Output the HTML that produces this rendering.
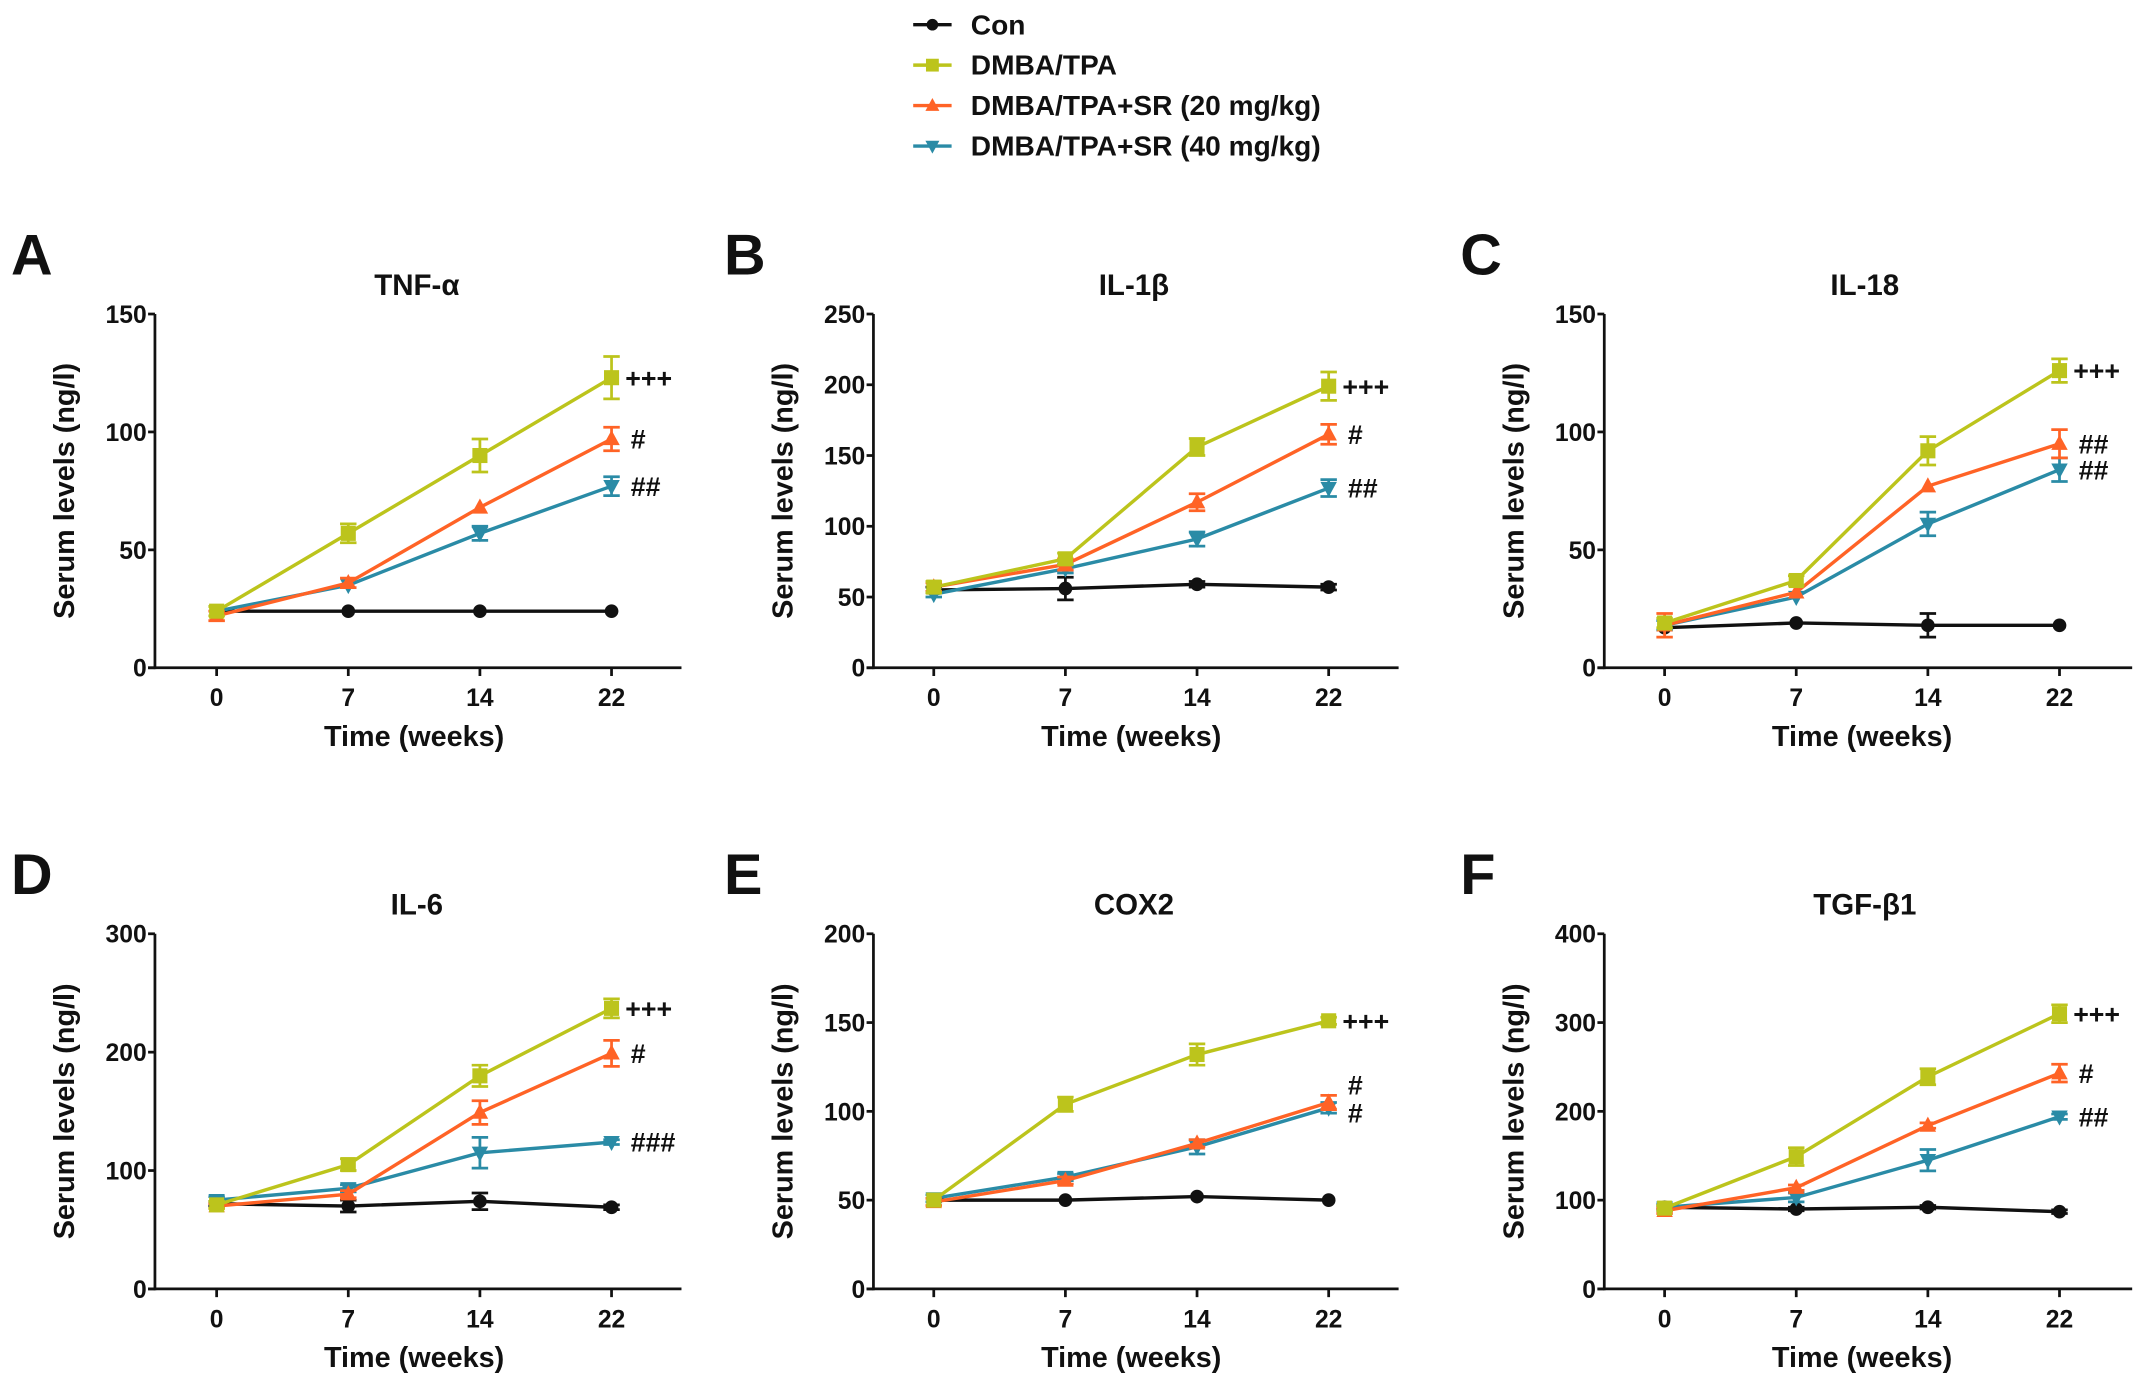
<!DOCTYPE html>
<html><head><meta charset="utf-8"><style>
html,body{margin:0;padding:0;background:#fff}
svg{display:block}
text{font-family:"Liberation Sans",Arial,sans-serif;font-weight:bold;fill:#111}
</style></head><body>
<svg id="fig" width="2150" height="1383" viewBox="0 0 1568 1008.6" xmlns="http://www.w3.org/2000/svg"></svg>
<script>
const categories = ["0","7","14","22"];
const seriesNames = ["Con","DMBA/TPA","DMBA/TPA+SR (20 mg/kg)","DMBA/TPA+SR (40 mg/kg)"];
const seriesColors = ["#111111","#bcc41c","#ff6326","#2a8ba6"];
const panelLetters = ["A","B","C","D","E","F"];
const panelTitles = ["TNF-α","IL-1β","IL-18","IL-6","COX2","TGF-β1"];
const yMaxes = [150,250,150,300,200,400];
const yTicks = [[0,50,100,150],[0,50,100,150,200,250],[0,50,100,150],[0,100,200,300],[0,50,100,150,200],[0,100,200,300,400]];
const conValues = [[24,24,24,24],[55,56,59,57],[17,19,18,18],[72,70,74,69],[50,50,52,50],[92,90,92,87]];
const conErrors = [[1,1,1,1],[2,8,2,2],[1,1,5,1],[2,5,7,2],[1,1,1,1],[2,2,2,2]];
const dmbaValues = [[24,57,90,123],[57,77,156,199],[19,37,92,126],[71,105,180,237],[50,104,132,151],[91,149,239,310]];
const dmbaErrors = [[2,4,7,9],[4,4,6,10],[2,2,6,5],[3,5,9,8],[1,4,6,2],[3,10,9,10]];
const sr20Values = [[22,36,68,97],[57,73,117,165],[18,32,77,95],[70,80,149,199],[49,61,82,105],[88,114,184,243]];
const sr20Errors = [[2,2,1,5],[3,4,6,7],[5,1,1,6],[2,3,10,11],[2,2,2,4],[3,3,3,10]];
const sr40Values = [[24,35,57,77],[52,70,91,127],[18,30,61,84],[75,85,115,124],[51,63,80,102],[92,103,145,194]];
const sr40Errors = [[1,1,3,4],[2,3,5,6],[2,1,5,5],[3,3,13,2],[2,2,4,3],[4,5,12,3]];
const annoTexts = [["+++","#","##"],["+++","#","##"],["+++","##","##"],["+++","#","###"],["+++","#","#"],["+++","#","##"]];
const annoValues = [[123,97,77],[199,165,127],[126,95,84],[237,199,124],[151,115,99],[310,243,194]];

const NS="http://www.w3.org/2000/svg";
const svg=document.getElementById('fig');
function mk(tag,attrs,parent,txt){const e=document.createElementNS(NS,tag);for(const k in attrs)e.setAttribute(k,attrs[k]);if(txt!==undefined)e.textContent=txt;(parent||svg).appendChild(e);return e;}

function marker(g,i,x,y,s){
  s=s||1;const c=seriesColors[i];
  if(i===0) return mk('circle',{cx:x,cy:y,r:5*s,fill:c},g);
  if(i===1) return mk('rect',{x:x-5.5*s,y:y-5.5*s,width:11*s,height:11*s,fill:c},g);
  if(i===2) return mk('polygon',{points:`${x},${y-6.5*s} ${x+6*s},${y+4.5*s} ${x-6*s},${y+4.5*s}`,fill:c},g);
  return mk('polygon',{points:`${x},${y+6.5*s} ${x+6*s},${y-4.5*s} ${x-6*s},${y-4.5*s}`,fill:c},g);
}

// legend
const lg=mk('g',{});


seriesNames.forEach((n,i)=>{
  const y=18+i*29.5;
  const g=mk('g',{},lg);
  
  
  mk('line',{x1:666,x2:694,y1:y,y2:y,stroke:seriesColors[i],'stroke-width':2.5},g);
  marker(g,i,680,y,0.85);
  mk('text',{x:708,y:y+7,'font-size':20.5},g,n);
});

const colX=[[113,158,96,497],[637,681,96,1020],[1170,1214,96,1555]];
const rowY=[[229,487],[681,940]];
const letterX=[8,528,1065];
for(let p=0;p<6;p++){
  const col=p%3,row=Math.floor(p/3);
  const [ax,x0,dx,xr]=colX[col];const [yt,yb]=rowY[row];
  const yMax=yMaxes[p];
  const X=i=>x0+i*dx;
  const Y=v=>yb-(v/yMax)*(yb-yt);
  const g=mk('g',{});
  
  
  const lt=mk('text',{x:letterX[col],y:yt-29,'font-size':42},g,panelLetters[p]);
  
  
  const tt=mk('text',{x:(x0+X(3))/2+2,y:yt-14,'font-size':21.5,'text-anchor':'middle'},g,panelTitles[p]);
  
  
  const ya=mk('line',{x1:ax,x2:ax,y1:yt,y2:yb+1,stroke:'#111','stroke-width':2},g);
  
  
  const xa=mk('line',{x1:ax-5,x2:xr,y1:yb,y2:yb,stroke:'#111','stroke-width':2},g);
  
  
  yTicks[p].forEach(t=>{
    mk('line',{x1:ax-5,x2:ax,y1:Y(t),y2:Y(t),stroke:'#111','stroke-width':2},g);
    const l=mk('text',{x:ax-6,y:Y(t)+6.5,'font-size':18,'text-anchor':'end'},g,t);
    
    
  });
  categories.forEach((c,i)=>{
    mk('line',{x1:X(i),x2:X(i),y1:yb,y2:yb+6,stroke:'#111','stroke-width':2},g);
    const l=mk('text',{x:X(i),y:yb+28,'font-size':18,'text-anchor':'middle'},g,c);
    
    
  });
  const xl=mk('text',{x:(x0+X(3))/2,y:yb+57,'font-size':21,'text-anchor':'middle'},g,'Time (weeks)');
  
  
  const yc=(yt+yb)/2;
  const yl=mk('text',{x:ax-59,y:yc,'font-size':21,'text-anchor':'middle',transform:`rotate(-90 ${ax-59} ${yc})`},g,'Serum levels (ng/l)');
  
  
  const vals=[conValues[p],dmbaValues[p],sr20Values[p],sr40Values[p]];
  const errs=[conErrors[p],dmbaErrors[p],sr20Errors[p],sr40Errors[p]];
  for(const s of [0,3,2,1]){
    const sg=mk('g',{},g);
    
    
    const pts=vals[s].map((v,i)=>X(i)+','+Y(v)).join(' ');
    mk('polyline',{points:pts,fill:'none',stroke:seriesColors[s],'stroke-width':2.5},sg);
    vals[s].forEach((v,i)=>{
      const e=errs[s][i];
      if(e>1){
        mk('line',{x1:X(i),x2:X(i),y1:Y(v+e),y2:Y(v-e),stroke:seriesColors[s],'stroke-width':2},sg);
        mk('line',{x1:X(i)-6,x2:X(i)+6,y1:Y(v+e),y2:Y(v+e),stroke:seriesColors[s],'stroke-width':2},sg);
        mk('line',{x1:X(i)-6,x2:X(i)+6,y1:Y(v-e),y2:Y(v-e),stroke:seriesColors[s],'stroke-width':2},sg);
      }
      const m=marker(sg,s,X(i),Y(v));
      
      
    });
  }
  annoTexts[p].forEach((a,k)=>{
    const at=mk('text',{x:X(3)+(a==='+++'?10:14),y:Y(annoValues[p][k])+7,'font-size':19.5},g,a);
    
    
  });
}
</script>
</body></html>
